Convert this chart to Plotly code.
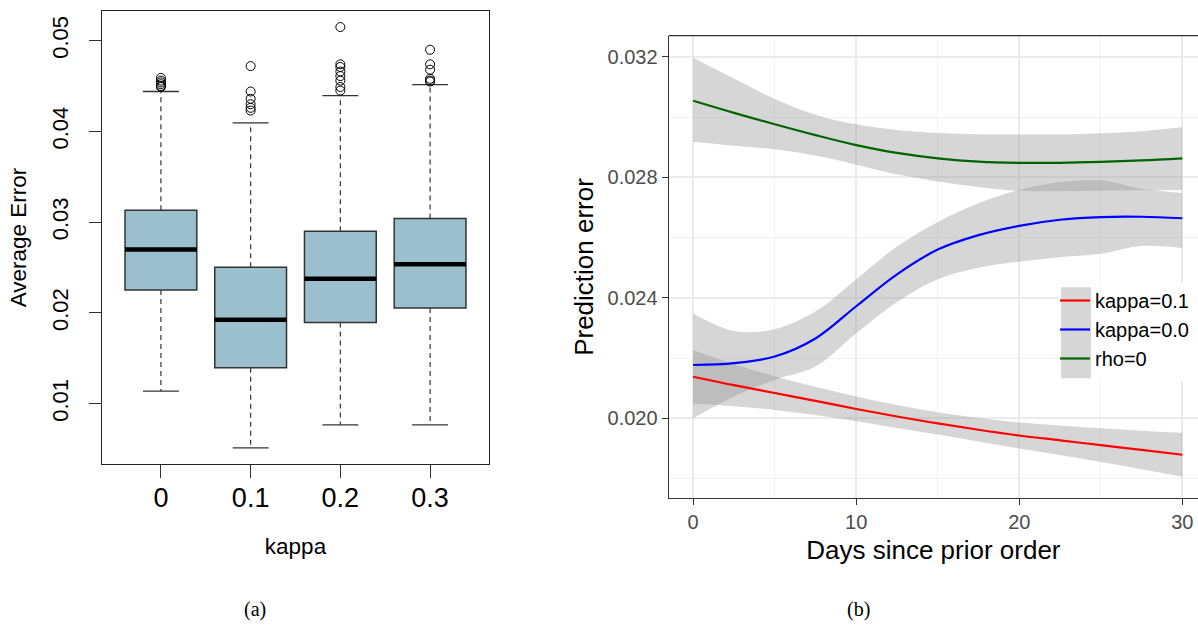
import plotly.graph_objects as go

# ---------------- Panel (a): box plot data ----------------
kappa_labels = ["0", "0.1", "0.2", "0.3"]
box_pos = [1, 2, 3, 4]
q1 = [0.02253, 0.01397, 0.01895, 0.02054]
med = [0.02698, 0.01925, 0.02377, 0.02537]
q3 = [0.03131, 0.02504, 0.02900, 0.03040]
whisk_lo = [0.01140, 0.00514, 0.00768, 0.00768]
whisk_hi = [0.04440, 0.04095, 0.04394, 0.04516]
outliers = [
    [0.0459, 0.0456, 0.0454, 0.0452, 0.0450, 0.0449],
    [0.0472, 0.0444, 0.0436, 0.0430, 0.0426, 0.0423],
    [0.0515, 0.0474, 0.0471, 0.0466, 0.0461, 0.0456, 0.0449, 0.0445],
    [0.0490, 0.0474, 0.0468, 0.0458, 0.0456, 0.0455],
]
y_ticks_a = [0.01, 0.02, 0.03, 0.04, 0.05]

# ---------------- Panel (b): smoothed curves ----------------
days = [0, 2.5, 5, 7.5, 10, 12.5, 15, 17.5, 20, 22.5, 25, 27.5, 30]
red_fit = [0.02138, 0.02110, 0.02084, 0.02058, 0.02031, 0.02006, 0.01983,
           0.01962, 0.01943, 0.01927, 0.01911, 0.01895, 0.01879]
red_hi = [0.02227, 0.02180, 0.02140, 0.02105, 0.02072, 0.02044, 0.02020,
          0.02001, 0.01986, 0.01976, 0.01967, 0.01959, 0.01952]
red_lo = [0.02049, 0.02040, 0.02028, 0.02011, 0.01990, 0.01968, 0.01946,
          0.01923, 0.01900, 0.01878, 0.01855, 0.01831, 0.01806]
blue_fit = [0.02177, 0.02183, 0.02205, 0.02265, 0.02372, 0.02478, 0.02560,
            0.02608, 0.02639, 0.02659, 0.02668, 0.02669, 0.02664]
blue_hi = [0.02348, 0.02290, 0.02296, 0.02355, 0.02462, 0.02570, 0.02652,
           0.02714, 0.02758, 0.02784, 0.02790, 0.02762, 0.02748]
blue_lo = [0.02000, 0.02072, 0.02128, 0.02172, 0.02282, 0.02386, 0.02462,
           0.02500, 0.02520, 0.02535, 0.02546, 0.02572, 0.02565]
green_fit = [0.03054, 0.03014, 0.02976, 0.02940, 0.02907, 0.02881, 0.02863,
             0.02852, 0.02848, 0.02848, 0.02851, 0.02856, 0.02863]
green_hi = [0.03197, 0.03128, 0.03060, 0.03008, 0.02976, 0.02957, 0.02947,
            0.02943, 0.02942, 0.02942, 0.02946, 0.02953, 0.02966]
green_lo = [0.02918, 0.02905, 0.02893, 0.02872, 0.02842, 0.02810, 0.02786,
            0.02768, 0.02755, 0.02754, 0.02755, 0.02757, 0.02758]
series_names = ["kappa=0.1", "kappa=0.0", "rho=0"]
series_colors = ["#FF0000", "#0000FF", "#006400"]
x_ticks_b = [0, 10, 20, 30]
y_ticks_b = [0.020, 0.024, 0.028, 0.032]

FONT = "Liberation Sans, Arial, sans-serif"
W, H = 1198, 629

fig = go.Figure()

# ---- boxes (whiskers drawn separately as dashed lines) ----
fig.add_trace(go.Box(
    x=box_pos, q1=q1, median=med, q3=q3, lowerfence=q1, upperfence=q3,
    width=0.8, fillcolor="#9BBFCC", line=dict(color="#333333", width=1.5),
    boxpoints=False, showlegend=False, xaxis="x", yaxis="y", hoverinfo="skip"))

wx, wy, cx, cy, mx, my = [], [], [], [], [], []
for p, a, b, c, d, m in zip(box_pos, whisk_lo, q1, q3, whisk_hi, med):
    wx += [p, p, None, p, p, None]
    wy += [c, d, None, b, a, None]
    cx += [p - 0.2, p + 0.2, None, p - 0.2, p + 0.2, None]
    cy += [d, d, None, a, a, None]
    mx += [p - 0.4, p + 0.4, None]
    my += [m, m, None]
fig.add_trace(go.Scatter(x=wx, y=wy, mode="lines", showlegend=False,
                         line=dict(color="#333333", width=1.2, dash="5px,4px"),
                         xaxis="x", yaxis="y", hoverinfo="skip"))
fig.add_trace(go.Scatter(x=cx, y=cy, mode="lines", showlegend=False,
                         line=dict(color="#333333", width=1.3),
                         xaxis="x", yaxis="y", hoverinfo="skip"))
fig.add_trace(go.Scatter(x=mx, y=my, mode="lines", showlegend=False,
                         line=dict(color="black", width=4.5),
                         xaxis="x", yaxis="y", hoverinfo="skip"))
ox, oy = [], []
for p, vals in zip(box_pos, outliers):
    ox += [p] * len(vals)
    oy += vals
fig.add_trace(go.Scatter(x=ox, y=oy, mode="markers", showlegend=False,
                         marker=dict(symbol="circle-open", size=9, color="black",
                                     line=dict(width=1)),
                         xaxis="x", yaxis="y", hoverinfo="skip"))

# ---- ribbons ----
ribbons = [(red_hi, red_lo), (blue_hi, blue_lo), (green_hi, green_lo)]
for hi, lo in ribbons:
    fig.add_trace(go.Scatter(x=days, y=hi, mode="lines", line=dict(width=0, shape="spline"),
                             showlegend=False, xaxis="x2", yaxis="y2", hoverinfo="skip"))
    fig.add_trace(go.Scatter(x=days, y=lo, mode="lines", line=dict(width=0, shape="spline"),
                             fill="tonexty", fillcolor="rgba(153,153,153,0.4)",
                             showlegend=False, xaxis="x2", yaxis="y2", hoverinfo="skip"))
# ---- fitted lines ----
for name, col, fit in zip(series_names, series_colors, [red_fit, blue_fit, green_fit]):
    fig.add_trace(go.Scatter(x=days, y=fit, mode="lines", name=name,
                             line=dict(color=col, width=2.2, shape="spline"),
                             xaxis="x2", yaxis="y2"))

def px_x(v):
    return v / W

def px_y(v):
    return 1 - v / H

shapes = [
    # top border of panel (b)
    dict(type="line", xref="x2 domain", yref="y2 domain", x0=0, x1=1, y0=1, y1=1,
         line=dict(color="#333333", width=1.2), layer="above"),
    # legend background and key area
    dict(type="rect", xref="paper", yref="paper", x0=px_x(1058), x1=px_x(1198),
         y0=px_y(381), y1=px_y(283), fillcolor="white", line=dict(width=0), layer="above"),
    dict(type="rect", xref="paper", yref="paper", x0=px_x(1061), x1=px_x(1091),
         y0=px_y(378.3), y1=px_y(287.3), fillcolor="#D6D6D6", line=dict(width=0), layer="above"),
]

annotations = [
    dict(text="(a)", x=px_x(255), y=px_y(609), xref="paper", yref="paper",
         xanchor="center", yanchor="middle", showarrow=False,
         font=dict(family="Liberation Serif, serif", size=20, color="black")),
    dict(text="(b)", x=px_x(858), y=px_y(609), xref="paper", yref="paper",
         xanchor="center", yanchor="middle", showarrow=False,
         font=dict(family="Liberation Serif, serif", size=20, color="black")),
]

fig.update_layout(
    width=W, height=H, margin=dict(l=0, r=0, t=0, b=0),
    paper_bgcolor="white", plot_bgcolor="white",
    font=dict(family=FONT, color="black"),
    shapes=shapes, annotations=annotations,
    xaxis=dict(domain=[101.7 / W, 489.3 / W], range=[0.34, 4.66],
               tickvals=box_pos, ticktext=kappa_labels, ticks="outside", ticklen=13,
               tickcolor="#333333", tickwidth=1.2, tickfont=dict(size=27, color="black"),
               ticklabelstandoff=-4,
               showline=True, mirror=True, linecolor="#222222", linewidth=1.2,
               showgrid=False, zeroline=False,
               title=dict(text="kappa", font=dict(size=22.5), standoff=26)),
    yaxis=dict(domain=[1 - 464 / H, 1 - 11 / H], range=[0.00336, 0.05327],
               tickvals=y_ticks_a, ticktext=[f"{v:.2f}" for v in y_ticks_a],
               tickangle=-90, ticks="outside", ticklen=12, tickcolor="#333333", tickwidth=1.2,
               tickfont=dict(size=22, color="black"), ticklabelstandoff=12,
               showline=True, mirror=True, linecolor="#222222", linewidth=1.2,
               showgrid=False, zeroline=False,
               title=dict(text="Average Error", font=dict(size=22.5), standoff=14)),
    xaxis2=dict(domain=[668.7 / W, 1.0], range=[-1.5, 30.96], anchor="y2",
                tickvals=x_ticks_b, ticks="outside", ticklen=6, tickcolor="#333333",
                tickwidth=1.2, tickfont=dict(size=20, color="#4D4D4D"),
                showline=True, linecolor="#333333", linewidth=1.2,
                showgrid=True, gridcolor="#EBEBEB", gridwidth=1.5, zeroline=False,
                minor=dict(dtick=5, tick0=0, showgrid=True, gridcolor="#F2F2F2", gridwidth=1),
                title=dict(text="Days since prior order", font=dict(size=26), standoff=8)),
    yaxis2=dict(domain=[1 - 498.3 / H, 1 - 35.7 / H], range=[0.017345, 0.0327], anchor="x2",
                tickvals=y_ticks_b, ticktext=[f"{v:.3f}" for v in y_ticks_b],
                ticks="outside", ticklen=6, tickcolor="#333333", tickwidth=1.2,
                tickfont=dict(size=20, color="#4D4D4D"),
                showline=True, linecolor="#333333", linewidth=1.2,
                showgrid=True, gridcolor="#EBEBEB", gridwidth=1.5, zeroline=False,
                minor=dict(dtick=0.002, tick0=0, showgrid=True, gridcolor="#F2F2F2", gridwidth=1),
                title=dict(text="Prediction error", font=dict(size=26), standoff=6)),
    legend=dict(x=px_x(1055), y=px_y(281), xanchor="left", yanchor="top",
                bgcolor="rgba(0,0,0,0)", borderwidth=0, itemwidth=30,
                traceorder="normal",
                font=dict(size=20, color="black"), tracegroupgap=0),
    showlegend=True,
)

fig.write_html("out.html")
